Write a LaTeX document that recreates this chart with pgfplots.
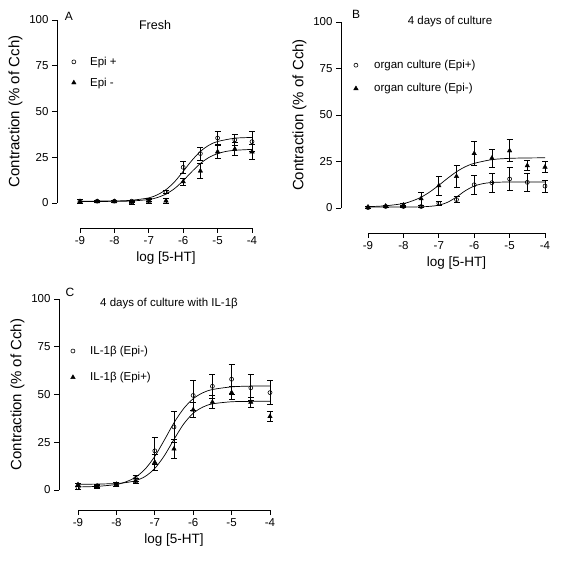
\documentclass[border=0pt]{standalone}
\usepackage{fontspec}
\setmainfont{Liberation Sans}
\usepackage{pgfplots}
\usepackage{pgfplotstable}
\pgfplotsset{compat=1.18}

% Panel A
\pgfplotstableread{
x y e
-9 1 1
-8.5 1 0.5
-8 1 0.5
-7.5 1 0.5
-7 1.5 0.8
-6.5 6 1
-6 19.5 3.5
-5.5 27 3.5
-5 35.5 3.5
-4.5 34.5 3
-4 33.5 5.5
}\Aplus
\pgfplotstableread{
x y e
-9 0.8 1
-8.5 0.8 0.5
-8 0.8 0.5
-7.5 0.3 0.8
-7 1 1
-6.5 1.2 1.2
-6 11.7 2
-5.5 17.5 4
-5 28 3.5
-4.5 29.5 3.5
-4 28 4
}\Aminus
\pgfplotstableread{
x y
-9 1.0
-8 1.1
-7.5 1.5
-7 2.8
-6.75 4.5
-6.5 7.3
-6.25 11.6
-6 17.3
-5.75 23.2
-5.5 28.2
-5.25 31.6
-5 33.6
-4.5 35.4
-4 35.8
}\Apluscurve
\pgfplotstableread{
x y
-9 0.8
-8 0.9
-7.5 1.1
-7 1.9
-6.75 3.0
-6.5 4.9
-6.25 7.9
-6 12.2
-5.75 17.1
-5.5 21.6
-5.25 24.9
-5 27.0
-4.75 28.2
-4.5 28.8
-4 29.3
}\Aminuscurve

% Panel B
\pgfplotstableread{
x y e
-9 0.2 0.5
-8.5 0.8 0.5
-8 0.8 0.5
-7.5 0.8 0.5
-7 2.5 1
-6.5 4.5 1.6
-6 12.5 5.2
-5.5 13.6 5
-5 15.6 6
-4.5 13.8 5
-4 11.8 3.3
}\Bplus
\pgfplotstableread{
x y e
-9 0.5 0.5
-8.5 1 0.5
-8 1.6 0.8
-7.5 5 3.5
-7 12 5
-6.5 17 6
-6 29.3 6.5
-5.5 26.8 4.8
-5 30.8 6
-4.5 22.8 2.7
-4 22 2.8
}\Bminus
\pgfplotstableread{
x y
-9 0.5
-8 0.5
-7.5 0.64
-7.25 0.9
-7 1.5
-6.75 3.1
-6.5 5.9
-6.25 9.3
-6 11.8
-5.75 13.1
-5.5 13.7
-5 14.0
-4 14.0
}\Bpluscurve
\pgfplotstableread{
x y
-9 0.7
-8.5 1.2
-8 2.4
-7.75 3.8
-7.5 5.8
-7.25 8.7
-7 12.2
-6.75 16.0
-6.5 19.5
-6.25 22.2
-6 24.0
-5.5 26.0
-5 26.7
-4.5 26.9
-4 27.0
}\Bminuscurve

% Panel C
\pgfplotstableread{
x y e
-9 1.2 0.8
-8.5 2.2 0.8
-8 3 1.2
-7.5 6 1.7
-7 20.5 7
-6.5 33 8
-6 49.5 7.8
-5.5 54.3 6.2
-5 58 7.7
-4.5 53.5 6.8
-4 51 6.2
}\Cminus
\pgfplotstableread{
x y e
-9 2.8 0.8
-8.5 1.8 0.8
-8 3 1
-7.5 4.7 1.3
-7 14.5 4
-6.5 21.5 5
-6 42 4
-5.5 46 3.5
-5 51 3.5
-4.5 46 2.5
-4 38.5 2.5
}\Cplus
\pgfplotstableread{
x y
-9 1.6
-8.5 1.9
-8 2.9
-7.75 4.3
-7.5 6.7
-7.25 11.0
-7 17.6
-6.75 26.2
-6.5 35.2
-6.25 42.6
-6 47.8
-5.75 50.9
-5.5 52.6
-5 54.0
-4.5 54.4
-4 54.5
}\Cminuscurve
\pgfplotstableread{
x y
-9 3.0
-8.5 3.1
-8 3.4
-7.75 3.9
-7.5 4.9
-7.25 7.1
-7 11.3
-6.75 18.0
-6.5 26.5
-6.25 34.5
-6 40.2
-5.75 43.4
-5.5 45.1
-5 46.2
-4.5 46.4
-4 46.5
}\Cpluscurve

\pgfplotsset{
  prism/.style={
    scale only axis,
    axis lines=left,
    axis line style={-, line width=0.8pt},
    tick align=outside,
    major tick length=5pt,
    tick style={line width=0.8pt, black},
    xmin=-9, xmax=-4, ymin=0, ymax=100,
    xtick={-9,-8,-7,-6,-5,-4},
    ytick={0,25,50,75,100},
    clip=false,
    /pgf/number format/assume math mode=true,
    ticklabel style={font=\fontsize{11.5}{13}\selectfont},
    xlabel={log [5-HT]},
    ylabel={Contraction (\% of Cch)},
    xlabel style={font=\fontsize{13.5}{15}\selectfont},
    ylabel style={font=\fontsize{15}{17}\selectfont},
    legend cell align=left,
    legend style={draw=none, fill=none, inner sep=0pt, anchor=north west,
      font=\fontsize{11.5}{13}\selectfont},
  },
  curve/.style={black, line width=0.7pt, smooth, no marks, forget plot},
  opendots/.style={only marks, mark=o, mark size=2pt, black, mark options={fill=white, line width=0.6pt},
    error bars/.cd, y dir=both, y explicit,
    error bar style={line width=0.8pt, black},
    error mark options={rotate=90, mark size=3pt, line width=0.8pt, black}},
  filltri/.style={only marks, mark=triangle*, mark size=2.6pt, black,
    error bars/.cd, y dir=both, y explicit,
    error bar style={line width=0.8pt, black},
    error mark options={rotate=90, mark size=3pt, line width=0.8pt, black}},
}

\begin{document}
\begin{tikzpicture}
\path[use as bounding box] (0,0) rectangle (564pt,562pt);

% Panel A
\begin{axis}[prism, at={(80pt,359pt)}, anchor=south west, width=172pt, height=183pt,
  axis y line shift=23pt, axis x line shift=25pt,
  legend style={at={(axis description cs:-0.05,0.81)}, row sep=7pt, column sep=12pt}]
  \addplot[curve] table {\Apluscurve};
  \addplot[curve] table {\Aminuscurve};
  \addplot[opendots] table[x=x,y=y,y error=e] {\Aplus};
  \addlegendentry{Epi +}
  \addplot[filltri] table[x=x,y=y,y error=e] {\Aminus};
  \addlegendentry{Epi -}
\end{axis}

% Panel B
\begin{axis}[prism, at={(368pt,354pt)}, anchor=south west, width=177pt, height=186pt,
  axis y line shift=27pt, axis x line shift=25pt,
  legend style={at={(axis description cs:-0.082,0.806)}, row sep=9.5pt, column sep=14pt}]
  \addplot[curve] table {\Bpluscurve};
  \addplot[curve] table {\Bminuscurve};
  \addplot[opendots] table[x=x,y=y,y error=e] {\Bplus};
  \addlegendentry{organ culture (Epi+)}
  \addplot[filltri] table[x=x,y=y,y error=e] {\Bminus};
  \addlegendentry{organ culture (Epi-)}
\end{axis}

% Panel C
\begin{axis}[prism, at={(78pt,72pt)}, anchor=south west, width=192pt, height=191pt,
  axis y line shift=19pt, axis x line shift=20pt,
  legend style={at={(axis description cs:-0.039,0.765)}, row sep=12.5pt, column sep=13pt}]
  \addplot[curve] table {\Cminuscurve};
  \addplot[curve] table {\Cpluscurve};
  \addplot[opendots] table[x=x,y=y,y error=e] {\Cminus};
  \addlegendentry{IL-1β (Epi-)}
  \addplot[filltri] table[x=x,y=y,y error=e] {\Cplus};
  \addlegendentry{IL-1β (Epi+)}
\end{axis}

% panel letters and titles
\node[font=\fontsize{12}{14}\selectfont] at (69pt,546pt) {A};
\node[font=\fontsize{12.5}{14}\selectfont] at (155pt,537pt) {Fresh};
\node[font=\fontsize{12}{14}\selectfont] at (356pt,548pt) {B};
\node[font=\fontsize{11.5}{13}\selectfont] at (450pt,540pt) {4 days of culture};
\node[font=\fontsize{12}{14}\selectfont] at (70pt,270pt) {C};
\node[font=\fontsize{11.5}{13}\selectfont] at (169pt,258pt) {4 days of culture with IL-1β};
\end{tikzpicture}
\end{document}
